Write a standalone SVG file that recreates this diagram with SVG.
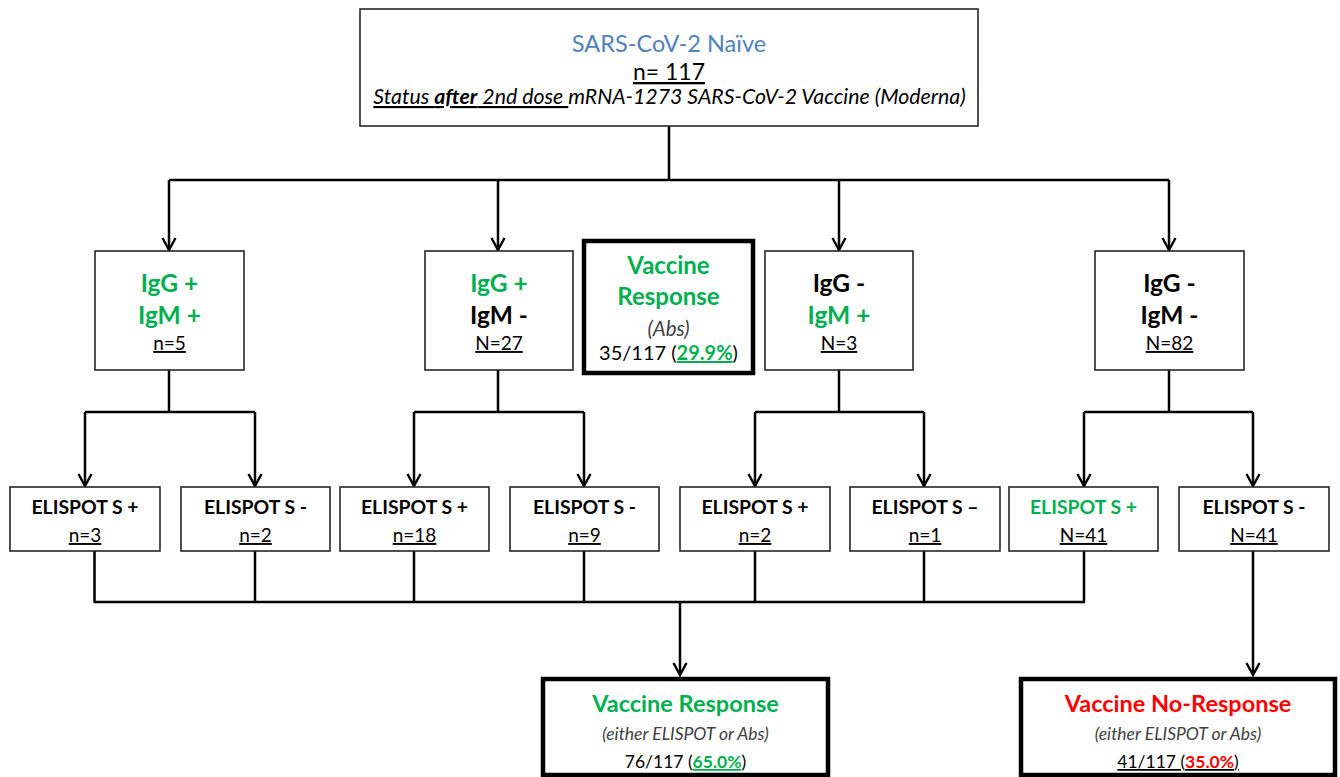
<svg xmlns="http://www.w3.org/2000/svg" width="1340" height="777" viewBox="0 0 1340 777">
<style>
.box{fill:#fff;stroke:#262626;stroke-width:1.6}
.thick{fill:#fff;stroke:#000;stroke-width:4.5}
.t{font-family:Lato,"Liberation Sans",sans-serif;text-anchor:middle;fill:#000}
.b{font-weight:700}
.g{fill:#00b050}
.r{fill:#ff0000}
.bl{fill:#4f81bd}
.i{font-style:italic;fill:#404040}
.u{text-decoration:underline}
.big{font-size:24.5px}
.el{font-size:19.4px}
.n{font-size:19px}
.c{fill:none;stroke:#000;stroke-width:2.5}
.a{fill:none;stroke:#000;stroke-width:2.5;marker-end:url(#arr)}
</style>
<defs>
<marker id="arr" markerUnits="userSpaceOnUse" markerWidth="16" markerHeight="16" viewBox="0 0 16 16" refX="14" refY="8" orient="auto">
<path d="M2,1.5 L14,8 L2,14.5" fill="none" stroke="#000" stroke-width="2.4"/>
</marker>
</defs>
<rect width="1340" height="777" fill="#fff"/>

<g id="connectors">
<path class="c" d="M669,126 V180 M169,180 H1169"/>
<path class="a" d="M169,180 V250"/>
<path class="a" d="M498,180 V250"/>
<path class="a" d="M839,180 V250"/>
<path class="a" d="M1169,180 V250"/>
<path class="c" d="M169,370 V412 M85,412 H255 M498,370 V412 M414,412 H584 M839,370 V412 M755,412 H924 M1169,370 V412 M1084,412 H1253"/>
<path class="a" d="M85,412 V486"/>
<path class="a" d="M255,412 V486"/>
<path class="a" d="M414,412 V486"/>
<path class="a" d="M584,412 V486"/>
<path class="a" d="M755,412 V486"/>
<path class="a" d="M924,412 V486"/>
<path class="a" d="M1084,412 V486"/>
<path class="a" d="M1253,412 V486"/>
<path class="c" d="M94.5,551 V602 M255,551 V602 M414,551 V602 M584,551 V602 M755,551 V602 M924,551 V602 M1084,551 V602 M93.5,602 H1085"/>
<path class="a" d="M680,602 V675"/>
<path class="a" d="M1253,551 V675"/>
</g>

<g id="naive">
<rect class="box" x="360" y="9" width="618" height="117"/>
<text class="t bl" x="669" y="52" font-size="23.5">SARS-CoV-2 Naïve</text>
<text class="t u" x="669" y="80" font-size="23">n= 117</text>
<text class="t" x="669.5" y="104" font-size="21.3" font-style="italic"><tspan class="u">Status <tspan font-weight="700">after</tspan> 2nd dose </tspan>mRNA-1273 SARS-CoV-2 Vaccine (Moderna)</text>
</g>

<g id="igg-pos-igm-pos">
<rect class="box" x="95" y="251" width="149" height="119"/>
<text class="t b g big" x="169.5" y="291.5">IgG +</text>
<text class="t b g big" x="169.5" y="323.5">IgM +</text>
<text class="t n u" x="169.5" y="350">n=5</text>
</g>

<g id="igg-pos-igm-neg">
<rect class="box" x="425" y="251" width="148" height="119"/>
<text class="t b g big" x="499" y="291.5">IgG +</text>
<text class="t b big" x="499" y="323.5">IgM -</text>
<text class="t n u" x="499" y="350">N=27</text>
</g>

<g id="vaccine-response-abs">
<rect class="thick" x="584" y="241" width="169" height="132"/>
<text class="t b g" x="668.5" y="273.5" font-size="24">Vaccine</text>
<text class="t b g" x="668.5" y="305" font-size="24">Response</text>
<text class="t i" x="668.5" y="336" font-size="20.5">(Abs)</text>
<text class="t" x="668.5" y="360" font-size="20">35/117 (<tspan class="g b u">29.9%</tspan>)</text>
</g>

<g id="igg-neg-igm-pos">
<rect class="box" x="765" y="251" width="148" height="119"/>
<text class="t b big" x="839" y="291.5">IgG -</text>
<text class="t b g big" x="839" y="323.5">IgM +</text>
<text class="t n u" x="839" y="350">N=3</text>
</g>

<g id="igg-neg-igm-neg">
<rect class="box" x="1095" y="251" width="149" height="119"/>
<text class="t b big" x="1169.5" y="291.5">IgG -</text>
<text class="t b big" x="1169.5" y="323.5">IgM -</text>
<text class="t n u" x="1169.5" y="350">N=82</text>
</g>

<g id="elispot-1">
<rect class="box" x="10" y="487" width="150" height="64"/>
<text class="t b el" x="85" y="514">ELISPOT S +</text>
<text class="t n u" x="85" y="542">n=3</text>
</g>
<g id="elispot-2">
<rect class="box" x="181" y="487" width="149" height="64"/>
<text class="t b el" x="255.5" y="514">ELISPOT S -</text>
<text class="t n u" x="255.5" y="542">n=2</text>
</g>
<g id="elispot-3">
<rect class="box" x="340" y="487" width="149" height="64"/>
<text class="t b el" x="414.5" y="514">ELISPOT S +</text>
<text class="t n u" x="414.5" y="542">n=18</text>
</g>
<g id="elispot-4">
<rect class="box" x="510" y="487" width="149" height="64"/>
<text class="t b el" x="584.5" y="514">ELISPOT S -</text>
<text class="t n u" x="584.5" y="542">n=9</text>
</g>
<g id="elispot-5">
<rect class="box" x="680" y="487" width="150" height="64"/>
<text class="t b el" x="755" y="514">ELISPOT S +</text>
<text class="t n u" x="755" y="542">n=2</text>
</g>
<g id="elispot-6">
<rect class="box" x="850" y="487" width="150" height="64"/>
<text class="t b el" x="925" y="514">ELISPOT S –</text>
<text class="t n u" x="925" y="542">n=1</text>
</g>
<g id="elispot-7">
<rect class="box" x="1009" y="487" width="149" height="64"/>
<text class="t b el g" x="1083.5" y="514">ELISPOT S +</text>
<text class="t n u" x="1083.5" y="542">N=41</text>
</g>
<g id="elispot-8">
<rect class="box" x="1179" y="487" width="150" height="64"/>
<text class="t b el" x="1254" y="514">ELISPOT S -</text>
<text class="t n u" x="1254" y="542">N=41</text>
</g>

<g id="vaccine-response">
<rect class="thick" x="543" y="679" width="285" height="96"/>
<text class="t b g" x="685.5" y="711.5" font-size="23.5">Vaccine Response</text>
<text class="t i" x="685.5" y="740" font-size="17.5">(either ELISPOT or Abs)</text>
<text class="t" x="685.5" y="768" font-size="17.5">76/117 (<tspan class="g b u">65.0%</tspan>)</text>
</g>

<g id="vaccine-no-response">
<rect class="thick" x="1021" y="679" width="314" height="96"/>
<text class="t b r" x="1178" y="711.5" font-size="23.5">Vaccine No-Response</text>
<text class="t i" x="1178" y="740" font-size="17.5">(either ELISPOT or Abs)</text>
<text class="t u" x="1178" y="768" font-size="17.5">41/117 (<tspan class="r b">35.0%</tspan>)</text>
</g>
</svg>
